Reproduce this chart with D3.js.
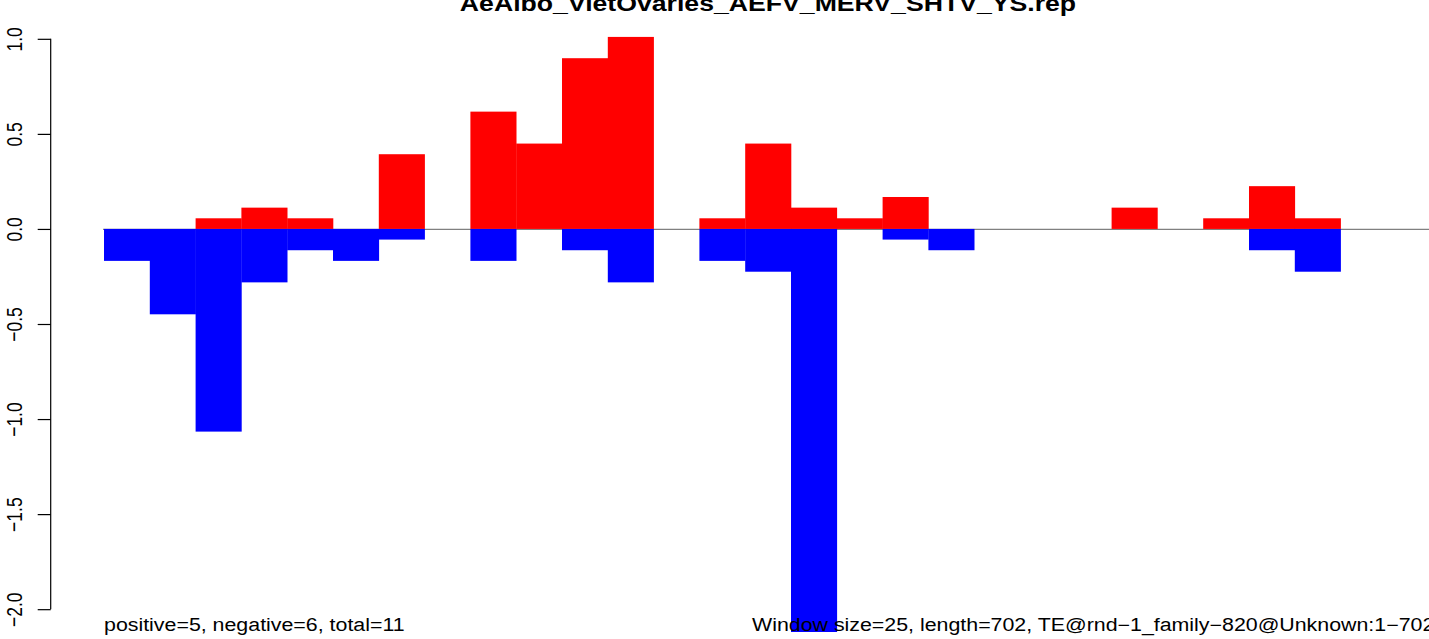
<!DOCTYPE html>
<html>
<head>
<meta charset="utf-8">
<script src="https://cdn.jsdelivr.net/npm/d3@7"></script>
<style>
  html, body { margin: 0; padding: 0; background: #fff; }
  svg { display: block; }
  text { font-family: "Liberation Sans", Arial, Helvetica, sans-serif; }
</style>
</head>
<body>
<svg id="chart" width="1429" height="639"></svg>
<script>
// ---- data ----
const windows = d3.range(29);               // window index 0..28
const positive = [0, 0, 0.056, 0.112, 0.056, 0, 0.393, 0, 0.617, 0.449, 0.898, 1.010, 0,
                  0.056, 0.449, 0.112, 0.056, 0.168, 0, 0, 0, 0, 0.112, 0, 0.056, 0.225, 0.056, 0, 0];
const negative = [-0.168, -0.449, -1.066, -0.281, -0.112, -0.168, -0.056, 0, -0.168, 0, -0.112, -0.281, 0,
                  -0.168, -0.225, -2.5, 0, -0.056, -0.112, 0, 0, 0, 0, 0, 0, -0.112, -0.225, 0, 0];
const yTicks = [-2.0, -1.5, -1.0, -0.5, 0.0, 0.5, 1.0];
const titleText = "AeAlbo_VietOvaries_AEFV_MERV_SHTV_YS.rep";
const leftNote = "positive=5, negative=6, total=11";
const rightNote = "Window size=25, length=702, TE@rnd\u22121_family\u2212820@Unknown:1\u2212702";

// ---- layout ----
const W = 1429, H = 639;
const plot = { left: 50.7, top: 16, bottom: 632 };
const stretch = 1.2;   // reference glyphs are horizontally wide
const svg = d3.select("#chart");

const x = d3.scaleBand().domain(windows).range([104, 104 + 29 * 45.8]).padding(0);
const y = d3.scaleLinear().domain([-2.12, 1.12]).range([plot.bottom, plot.top]);

svg.append("defs").append("clipPath").attr("id", "plotclip")
  .append("rect").attr("x", plot.left).attr("y", plot.top)
  .attr("width", W - plot.left).attr("height", plot.bottom - plot.top);

// zero line
svg.append("line")
  .attr("x1", x(0) - 1).attr("x2", W)
  .attr("y1", y(0) + 0.5).attr("y2", y(0) + 0.5)
  .attr("stroke", "#808080").attr("stroke-width", 1.3);

const g = svg.append("g").attr("clip-path", "url(#plotclip)");
g.selectAll("rect.pos").data(windows.filter(i => positive[i] > 0)).join("rect")
  .attr("class", "pos")
  .attr("x", i => x(i)).attr("width", x.bandwidth() + 0.3)
  .attr("y", i => y(positive[i])).attr("height", i => y(0) - y(positive[i]))
  .attr("fill", "#ff0000");
g.selectAll("rect.neg").data(windows.filter(i => negative[i] < 0)).join("rect")
  .attr("class", "neg")
  .attr("x", i => x(i)).attr("width", x.bandwidth() + 0.3)
  .attr("y", y(0)).attr("height", i => y(negative[i]) - y(0))
  .attr("fill", "#0000ff");

// y axis
const fmt = v => d3.format(".1f")(v).replace("-", "\u2212");
const ax = svg.append("g").attr("transform", `translate(${plot.left},0)`)
  .call(d3.axisLeft(y).tickValues(yTicks).tickFormat(fmt).tickSize(13).tickSizeOuter(0));
ax.select(".domain").remove();
ax.append("line").attr("x1", 0).attr("x2", 0)
  .attr("y1", y(yTicks[0])).attr("y2", y(yTicks[yTicks.length - 1]))
  .attr("stroke", "#000").attr("stroke-width", 1.2);
ax.selectAll(".tick line").attr("stroke", "#000").attr("stroke-width", 1.2);
const tickStretch = 1.3;
ax.selectAll(".tick text")
  .attr("transform", `rotate(-90) scale(1,${tickStretch})`)
  .attr("x", 0).attr("y", -29 / tickStretch).attr("dy", null)
  .attr("text-anchor", "middle")
  .attr("fill", "#000")
  .style("font-size", "17.5px")
  .style("font-family", "'Liberation Sans', Arial, sans-serif");

// title
svg.append("text")
  .attr("transform", `translate(768,11) scale(${stretch},1)`)
  .attr("text-anchor", "middle")
  .style("font-size", "22.2px").style("font-weight", "bold")
  .text(titleText);

// notes
svg.append("text").attr("transform", `translate(104,631) scale(${stretch},1)`)
  .style("font-size", "17.8px").text(leftNote);
svg.append("text").attr("transform", `translate(752,631) scale(${stretch},1)`)
  .style("font-size", "17.8px").text(rightNote);
</script>
</body>
</html>
